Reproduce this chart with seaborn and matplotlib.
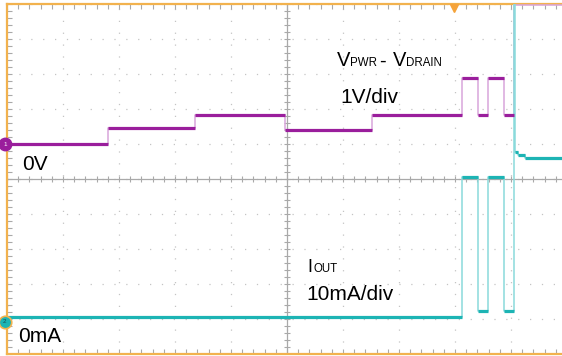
import numpy as np
import pandas as pd
import matplotlib
matplotlib.use("Agg")
import matplotlib.pyplot as plt
from matplotlib.ticker import MultipleLocator
import seaborn as sns

# ---- data (time in screen divisions, 10 div across) ----
vdrop_t = [0.00, 1.80, 3.36, 4.96, 6.52, 8.13, 8.41, 8.59, 8.88, 9.06, 10.00]
vdrop_v = [0.00, 0.46, 0.84, 0.41, 0.84, 1.89, 0.84, 1.89, 0.84, 3.98, 3.98]   # V

iout_t = [0.00, 8.13, 8.41, 8.59, 8.88, 9.06, 9.08, 9.13, 9.25, 10.00]
iout_ma = [1.5, 41.4, 3.1, 41.4, 3.1, 95.0, 48.6, 47.6, 46.9, 46.9]            # mA

ch1_scale = 1.0    # V/div
ch2_scale = 10.0   # mA/div
ch1_offset = 1.0   # div (0V marker)
ch2_offset = -4.08 # div (0mA marker)

ch1 = pd.DataFrame({"t": vdrop_t, "div": np.array(vdrop_v) / ch1_scale + ch1_offset})
ch2 = pd.DataFrame({"t": iout_t, "div": np.array(iout_ma) / ch2_scale + ch2_offset})

sns.set_style("white")
plt.rcParams["font.family"] = ["Liberation Sans", "DejaVu Sans"]

W, H = 562, 356
fig = plt.figure(figsize=(W / 100, H / 100), dpi=100)
ax = fig.add_axes([7 / W, 2 / H, 560 / W, 350 / H])
ax.set_xlim(0, 10)
ax.set_ylim(-5, 5)

purple = "#9A1E9C"
purple_l = "#D9A6DB"
cyan = "#1DB4B4"
cyan_l = "#8ADADB"
orange = "#F2B24E"
grid_c = "#C4C4C4"
center_c = "#A9A9A9"

# grid
ax.set_xticks(np.arange(0, 11, 1))
ax.set_yticks(np.arange(-5, 6, 1))
ax.xaxis.set_minor_locator(MultipleLocator(0.2))
ax.yaxis.set_minor_locator(MultipleLocator(0.2))
ax.grid(which="major", color=grid_c, lw=0.9, ls=(0, (1, 8.5)))
ax.tick_params(which="both", direction="in", length=3.5, width=0.8, color=center_c,
               top=True, right=True, bottom=True, left=True,
               labelbottom=False, labelleft=False)
ax.set_xlabel("")
ax.set_ylabel("")

# center cross with minor ticks
ax.axhline(0, color=center_c, lw=0.9, zorder=1)
ax.axvline(5, color=center_c, lw=0.9, zorder=1)
mt = np.arange(0, 10.001, 0.2)
ax.plot(mt, np.zeros_like(mt), ls="none", marker="|", ms=5, mew=0.8, color=center_c, zorder=1)
mty = np.arange(-5, 5.001, 0.2)
ax.plot(np.full_like(mty, 5), mty, ls="none", marker="_", ms=5, mew=0.8, color=center_c, zorder=1)

for s in ["left", "top", "bottom"]:
    ax.spines[s].set_color(orange)
    ax.spines[s].set_linewidth(1.6)
ax.spines["right"].set_visible(False)

# traces (thin step lines for transitions)
sns.lineplot(data=ch1, x="t", y="div", drawstyle="steps-post", color=purple_l, lw=1.1,
             estimator=None, sort=False, ax=ax, zorder=3)
sns.lineplot(data=ch2, x="t", y="div", drawstyle="steps-post", color=cyan_l, lw=1.1,
             estimator=None, sort=False, ax=ax, zorder=4)

# thick settled levels
def levels(df, color, z):
    t = df["t"].to_numpy()
    y = df["div"].to_numpy()
    for i in range(len(t) - 1):
        if -5 < y[i] < 4.9:
            ax.hlines(y[i], t[i], t[i + 1], color=color, lw=2.3, zorder=z)

levels(ch2, cyan, 4.5)
levels(ch1, purple, 4.6)

# channel markers
ax.plot(-0.04, ch1_offset, "o", ms=9, color=purple, clip_on=False, zorder=6)
ax.text(-0.04, ch1_offset, "1", color="white", fontsize=4.5, ha="center", va="center",
        clip_on=False, zorder=7)
ax.plot(-0.04, ch2_offset, "o", ms=9, mfc=cyan, mec=orange, mew=1.2, clip_on=False, zorder=6)
ax.text(-0.04, ch2_offset, "2", color="#1a4a4a", fontsize=4.5, ha="center", va="center",
        clip_on=False, zorder=7)

# trigger marker
ax.plot(7.98, 4.88, "v", ms=6, color="#F5A33A", clip_on=False, zorder=6)

# texts (pixel placement)
def ptext(x, y, s, size):
    fig.text(x / W, 1 - y / H, s, fontsize=size, ha="left", va="baseline", color="black")

ptext(337, 66.5, "V", 14.5)
ptext(350, 66.5, "PWR", 8.3)
ptext(379, 66.5, "-", 14.5)
ptext(393, 66.5, "V", 14.5)
ptext(406, 66.5, "DRAIN", 8.3)
ptext(340, 103, "1V/div", 15)
ptext(307, 272, "I", 13)
ptext(313, 272, "OUT", 8.3)
ptext(306, 300.5, "10mA/div", 15)
ptext(22, 170.5, "0V", 15)
ptext(18, 342.5, "0mA", 15)

fig.savefig("out.png", dpi=100)
